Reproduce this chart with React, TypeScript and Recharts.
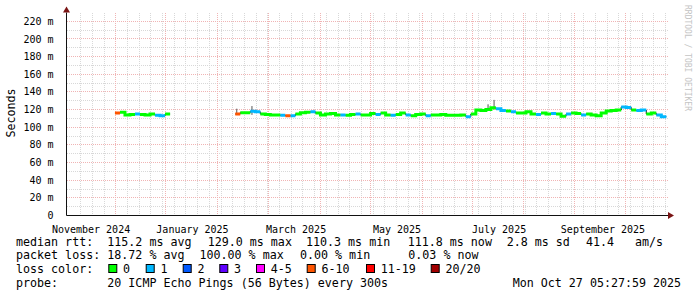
import { ComposedChart, Line, XAxis, YAxis, ReferenceLine, ReferenceDot } from 'recharts';

const MONO = '"DejaVu Sans Mono", monospace';

// loss classes
const LOSS_COLORS = ['#00ff00', '#00b8ff', '#0059ff', '#5e00ff', '#ff00ff', '#ff5500', '#ff0000', '#a10000'];
const LOSS_LABELS = ['0', '1', '2', '3', '4-5', '6-10', '11-19', '20/20'];

// time axis in days since start of the 360 day window
const STEP = 3;
const X_LABEL_DAYS = [14.7, 75.4, 137.4, 197.8, 258.9, 321.1];
const X_LABELS = ['November 2024', 'January 2025', 'March 2025', 'May 2025', 'July 2025', 'September 2025'];
const MAJOR_DAYS = [29.2, 59.1, 90.3, 120.6, 151.9, 182.1, 212.9, 242.9, 273.4, 304.3, 334.4];
const WEEK_DAYS = Array.from({ length: 51 }, (_, k) => 8.5 + 7 * k);

const Y_TICKS = [0, 20, 40, 60, 80, 100, 120, 140, 160, 180, 200, 220];
const Y_MINOR = [10, 30, 50, 70, 90, 110, 130, 150, 170, 190, 210];

// median rtt (ms) and loss class per bucket
const seg1Start = 29;
const seg1Median = [116, 117, 114, 114.5, 115, 114.5, 114, 115, 113.5, 113, 115];
const seg1Loss = [5, 0, 0, 0, 1, 0, 0, 0, 1, 1, 0];

const seg2Start = 101;
const seg2Median = [
  115, 116.5, 116.5, 118, 117.5, 115, 114.5, 114, 114, 113.5,
  113, 113, 115, 116.5, 117, 117.5, 116, 114, 115, 115.5,
  114, 114, 113.5, 114.5, 115, 114, 114, 115.5, 114.5, 116,
  114, 113.5, 114.5, 116, 114, 113, 114.5, 115, 113, 114,
  114, 114.5, 113.5, 113.5, 113.5, 114, 112, 115, 119.5, 119,
  120, 122, 121, 119, 118.5, 117.5, 116, 116, 117.5, 115,
  114.5, 116, 115, 115.5, 115, 112.5, 115, 116, 115.5, 114,
  115, 114, 113, 116, 118.5, 119, 119.5, 123, 122.5, 119.5,
  119, 119.5, 115, 116, 114, 112,
];
const seg2Loss = [
  5, 0, 0, 1, 1, 0, 0, 0, 0, 1,
  5, 1, 0, 0, 0, 1, 0, 0, 0, 0,
  0, 1, 0, 0, 1, 0, 0, 0, 1, 0,
  0, 1, 0, 0, 1, 0, 0, 0, 1, 0,
  0, 0, 0, 0, 0, 0, 1, 0, 0, 0,
  0, 0, 1, 1, 0, 1, 0, 0, 0, 0,
  1, 0, 0, 1, 0, 0, 1, 0, 0, 1,
  0, 0, 0, 0, 0, 0, 0, 1, 1, 0,
  1, 1, 0, 0, 1, 1,
];

// smoke spikes
const smokeDays = [101.9, 111, 252.3, 255.9];
const smokeLo = [115, 114, 120, 120];
const smokeHi = [121, 124, 126, 131];

const segments = [
  { start: seg1Start, median: seg1Median, loss: seg1Loss },
  { start: seg2Start, median: seg2Median, loss: seg2Loss },
];

type Row = { day: number; v: number | null };

function classRows(cls: number): Row[] {
  const rows: Row[] = [];
  segments.forEach((s) => {
    s.median.forEach((v, i) => {
      if (s.loss[i] !== cls) return;
      const t = s.start + i * STEP;
      rows.push({ day: t, v });
      rows.push({ day: t + STEP, v });
      if (s.loss[i + 1] !== cls) rows.push({ day: t + STEP, v: null });
    });
  });
  return rows;
}

function allRows(): Row[] {
  const rows: Row[] = [];
  segments.forEach((s) => {
    s.median.forEach((v, i) => {
      const t = s.start + i * STEP;
      rows.push({ day: t, v });
      rows.push({ day: t + STEP, v });
    });
    rows.push({ day: s.start + s.median.length * STEP, v: null });
  });
  return rows;
}

const smokeRows: Row[] = smokeDays.flatMap((d, i) => [
  { day: d, v: smokeLo[i] },
  { day: d, v: smokeHi[i] },
  { day: d, v: null },
]);

const ArrowRight = (p: any) => (
  <path d={`M${p.cx},${p.cy - 3.5}L${p.cx + 6},${p.cy}L${p.cx},${p.cy + 3.5}Z`} fill="#7a1414" />
);
const ArrowUp = (p: any) => (
  <path d={`M${p.cx - 3.5},${p.cy}L${p.cx},${p.cy - 6}L${p.cx + 3.5},${p.cy}Z`} fill="#7a1414" />
);

const statsRtt: [number, string][] = [
  [16, 'median rtt:'], [107.3, '115.2 ms avg'], [207.7, '129.0 ms max'], [306, '110.3 ms min'],
  [407.7, '111.8 ms now'], [506.7, '2.8 ms sd'], [586, '41.4'], [635, 'am/s'],
];
const statsLoss: [number, string][] = [
  [16, 'packet loss:'], [107.3, '18.72 % avg'], [199.5, '100.00 % max'], [300, '0.00 % min'], [408.3, '0.03 % now'],
];
const lossBoxX = [108.3, 145.7, 182.7, 219.3, 256, 306.7, 366, 430.7];

const MINOR_GRID = { stroke: '#d8d8d8', strokeDasharray: '1 1', shapeRendering: 'crispEdges' } as const;
const MAJOR_GRID = { stroke: '#f0b4b4', strokeDasharray: '1 1', shapeRendering: 'crispEdges' } as const;

export default function App() {
  return (
    <div style={{ position: 'fixed', left: 0, top: 0, width: 697, height: 297, background: '#fff' }}>
      <ComposedChart width={697} height={297} margin={{ top: 12.5, right: 29, bottom: 51.5, left: 6 }}>
        <XAxis
          dataKey="day"
          type="number"
          domain={[0, 360]}
          allowDataOverflow
          ticks={X_LABEL_DAYS}
          interval={0}
          tickFormatter={(v: number) => X_LABELS[X_LABEL_DAYS.indexOf(v)] ?? ''}
          tickLine={false}
          tickMargin={4}
          height={30}
          axisLine={{ stroke: '#111' }}
          tick={{ fill: '#000', fontSize: 10, fontFamily: MONO }}
        />
        <YAxis
          type="number"
          domain={[0, 230]}
          allowDataOverflow
          ticks={Y_TICKS}
          interval={0}
          width={60.5}
          tickFormatter={(v: number) => (v === 0 ? '0' : `${v} m`)}
          tickLine={false}
          tickMargin={7}
          axisLine={{ stroke: '#111' }}
          tick={{ fill: '#000', fontSize: 10, fontFamily: MONO }}
        />
        {Y_MINOR.map((y) => (
          <ReferenceLine key={`ym${y}`} y={y} {...MINOR_GRID} />
        ))}
        {WEEK_DAYS.map((d) => (
          <ReferenceLine key={`xw${d}`} x={d} {...MINOR_GRID} />
        ))}
        {Y_TICKS.filter((y) => y > 0).map((y) => (
          <ReferenceLine key={`yM${y}`} y={y} {...MAJOR_GRID} />
        ))}
        {MAJOR_DAYS.map((d) => (
          <ReferenceLine key={`xM${d}`} x={d} {...MAJOR_GRID} />
        ))}
        <Line data={smokeRows} dataKey="v" stroke="#555" strokeWidth={1} dot={false} activeDot={false} connectNulls={false} isAnimationActive={false} />
        <Line data={allRows()} dataKey="v" stroke="#111" strokeWidth={1} dot={false} activeDot={false} connectNulls={false} isAnimationActive={false} />
        {LOSS_COLORS.map((c, cls) => (
          <Line
            key={cls}
            data={classRows(cls)}
            dataKey="v"
            stroke={c}
            strokeWidth={3}
            strokeLinecap="butt"
            dot={false}
            activeDot={false}
            connectNulls={false}
            isAnimationActive={false}
          />
        ))}
        <ReferenceDot x={360} y={0} ifOverflow="visible" shape={ArrowRight} />
        <ReferenceDot x={0} y={230} ifOverflow="visible" shape={ArrowUp} />
      </ComposedChart>
      <svg width={697} height={297} style={{ position: 'absolute', left: 0, top: 0, pointerEvents: 'none' }}>
        <g fontFamily={MONO} fontSize={11.66} fill="#000">
          <text transform="translate(15.2,113) rotate(-90)" textAnchor="middle">Seconds</text>
          {statsRtt.map(([x, s]) => (
            <text key={s} x={x} y={245.6} style={{ whiteSpace: 'pre' }}>{s}</text>
          ))}
          {statsLoss.map(([x, s]) => (
            <text key={s} x={x} y={259.3} style={{ whiteSpace: 'pre' }}>{s}</text>
          ))}
          <text x={16} y={273.3}>loss color:</text>
          {LOSS_LABELS.map((l, i) => (
            <g key={l}>
              <rect x={lossBoxX[i] + 0.5} y={264.5} width={8} height={8} fill={LOSS_COLORS[i]} stroke="#000" strokeWidth={1} />
              <text x={lossBoxX[i] + 14.7} y={273.3}>{l}</text>
            </g>
          ))}
          <text x={16} y={287.3}>probe:</text>
          <text x={107.3} y={287.3}>20 ICMP Echo Pings (56 Bytes) every 300s</text>
          <text x={512.7} y={287.3}>Mon Oct 27 05:27:59 2025</text>
        </g>
        <text transform="translate(685.3,5) rotate(90)" fontFamily={MONO} fontSize={8} fill="#c4c4c4">
          RRDTOOL / TOBI OETIKER
        </text>
      </svg>
    </div>
  );
}
